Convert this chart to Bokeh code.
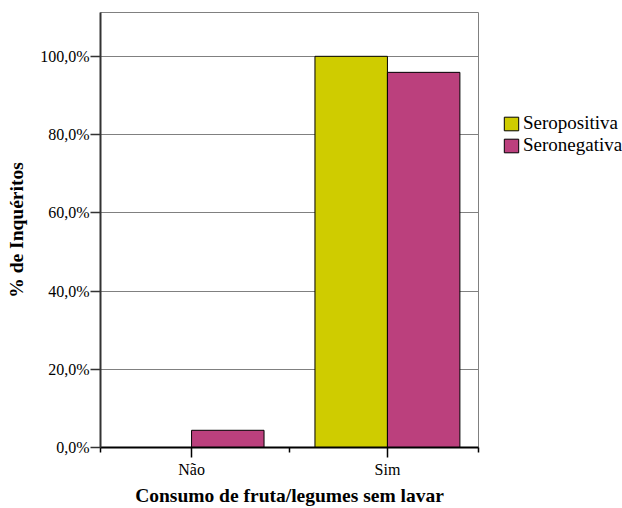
import numpy as np
from bokeh.plotting import figure
from bokeh.layouts import row
from bokeh.models import (Range1d, FixedTicker, Legend, LegendItem, ColumnDataSource)
from bokeh.embed import file_html
from bokeh.resources import INLINE

# Data: share of inquiries by eating unwashed fruit/vegetables
categories = ["Não", "Sim"]
seropositiva = [0.0, 100.0]
seronegativa = [4.4, 95.9]
y_ticks = [0, 20, 40, 60, 80, 100]
y_tick_labels = ["0,0%", "20,0%", "40,0%", "60,0%", "80,0%", "100,0%"]
series_names = ["Seropositiva", "Seronegativa"]
series_colors = ["#CFCC00", "#BB407D"]

FONT = "Liberation Serif"
bar_w = 0.37
idx = np.arange(len(categories))
x_lo, x_hi = -0.465, 1.465

p = figure(width=480, height=508, output_backend="svg", toolbar_location=None,
           x_range=Range1d(x_lo, x_hi), y_range=Range1d(0, 111.2),
           min_border_left=100, min_border_right=2,
           min_border_top=12, min_border_bottom=58)

p.background_fill_color = "white"
p.border_fill_color = "white"
p.outline_line_color = "#808080"
p.outline_line_width = 1

# grid
p.xgrid.visible = False
p.ygrid.ticker = FixedTicker(ticks=y_ticks)
p.ygrid.grid_line_color = "#808080"
p.ygrid.grid_line_width = 1.2

sources = []
for vals, offset, color in zip([seropositiva, seronegativa], [-bar_w / 2, bar_w / 2], series_colors):
    src = ColumnDataSource(dict(x=idx + offset, top=vals))
    sources.append(src)
    p.vbar(x="x", top="top", bottom=0, width=bar_w, source=src,
           fill_color=color, line_color="black", line_width=1)

# y axis
yax = p.yaxis[0]
yax.ticker = FixedTicker(ticks=y_ticks, minor_ticks=[])
yax.major_label_overrides = {t: s for t, s in zip(y_ticks, y_tick_labels)}
yax.axis_label = "% de Inquéritos"
yax.axis_label_text_font = FONT
yax.axis_label_text_font_style = "bold"
yax.axis_label_text_font_size = "19.5px"
yax.axis_label_text_color = "black"
yax.axis_label_standoff = 10
yax.major_label_text_font = FONT
yax.major_label_text_font_size = "16px"
yax.major_label_text_color = "black"
yax.major_label_standoff = 1
yax.major_tick_out = 10
yax.major_tick_in = 0
yax.major_tick_line_color = "#333333"
yax.major_tick_line_width = 1.5
yax.axis_line_color = "#333333"
yax.axis_line_width = 2

# x axis
xax = p.xaxis[0]
xax.ticker = FixedTicker(ticks=list(idx), minor_ticks=[x_lo, 0.5, x_hi])
xax.major_label_overrides = {int(i): c for i, c in zip(idx, categories)}
xax.axis_label = "Consumo de fruta/legumes sem lavar"
xax.axis_label_text_font = FONT
xax.axis_label_text_font_style = "bold"
xax.axis_label_text_font_size = "19.5px"
xax.axis_label_text_color = "black"
xax.axis_label_standoff = 4
xax.major_label_text_font = FONT
xax.major_label_text_font_size = "16px"
xax.major_label_text_color = "black"
xax.major_label_standoff = 3
xax.major_tick_out = 10
xax.major_tick_in = 0
xax.minor_tick_out = 5
xax.minor_tick_in = 0
xax.major_tick_line_color = "black"
xax.minor_tick_line_color = "black"
xax.major_tick_line_width = 1.5
xax.minor_tick_line_width = 1.5
xax.axis_line_color = "black"
xax.axis_line_width = 2

# legend panel to the right of the chart (borders match the chart so the row stays aligned)
lg = figure(width=142, height=508, output_backend="svg", toolbar_location=None,
            x_range=Range1d(0, 1), y_range=Range1d(0, 1),
            x_axis_location=None, y_axis_location=None,
            min_border_left=0, min_border_right=0,
            min_border_top=12, min_border_bottom=58)
lg.outline_line_color = None
lg.grid.visible = False
lg.background_fill_color = "white"
lg.border_fill_color = "white"

swatches = []
for src, color in zip(sources, series_colors):
    r = lg.vbar(x="x", top="top", bottom=0, width=bar_w, source=src,
                fill_color=color, line_color="black", line_width=1)
    r.visible = False
    swatches.append(r)

legend = Legend(items=[LegendItem(label=n, renderers=[r]) for n, r in zip(series_names, swatches)],
                location=(22, 291))
legend.label_text_font = FONT
legend.label_text_font_size = "19px"
legend.label_text_color = "black"
legend.label_standoff = 3
legend.glyph_width = 18
legend.glyph_height = 17
legend.label_height = 17
legend.spacing = -2
legend.padding = 0
legend.margin = 0
legend.border_line_color = None
legend.background_fill_alpha = 0
lg.add_layout(legend, "center")

layout = row(p, lg)
open("out.html", "w").write(file_html(layout, INLINE))
